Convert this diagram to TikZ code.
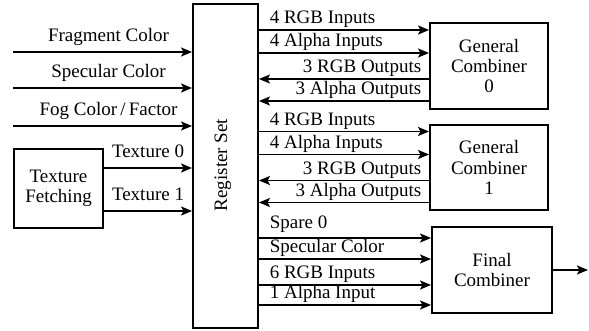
\documentclass[tikz,border=0pt]{standalone}
\usepackage{fontspec}
\setmainfont{Liberation Serif}
\usetikzlibrary{arrows.meta,positioning,calc}

\begin{document}
\begin{tikzpicture}[x=0.5pt,y=-0.5pt,font=\fontsize{9.5}{10.2}\selectfont,
  box/.style={draw,line width=0.95pt,align=center,inner sep=0pt},
  arr/.style={-{Stealth[length=5.5pt,width=4.5pt,inset=1.2pt]},line width=0.85pt},
  lbl/.style={text height=6.6pt,text depth=2pt,inner sep=0.6pt}]
  \useasboundingbox (0,0) rectangle (589,331);
  % blocks
  \node[box,minimum width=32.5pt,minimum height=162pt] (reg) at (225.5,166) {};
  \node[rotate=90] at (223,165) {Register Set};
  \node[box,minimum width=44.5pt,minimum height=39.5pt] (tex) at (58.5,188.5) {Texture\\Fetching};
  \node[box,minimum width=59pt,minimum height=43pt] (gc0) at (489,66) {General\\Combiner\\0};
  \node[box,minimum width=59pt,minimum height=42.5pt] (gc1) at (489,167.5) {General\\Combiner\\1};
  \node[box,minimum width=60pt,minimum height=43pt] (fin) at (492,270) {Final\\Combiner};
  % inputs on the left
  \coordinate (fragin) at (13,52);
  \coordinate (specin) at (13,88);
  \coordinate (fogin) at (13,126);
  \draw[arr] (fragin) -- (fragin -| reg.west) node[midway,above,lbl,inner sep=3pt,xshift=3pt] {Fragment Color};
  \draw[arr] (specin) -- (specin -| reg.west) node[midway,above,lbl,inner sep=3pt,xshift=3pt] {Specular Color};
  \draw[arr] (fogin) -- (fogin -| reg.west) node[midway,above,lbl,inner sep=3pt,xshift=3pt] {Fog Color\,/\,Factor};
  \draw[arr] ($(tex.east)+(0,-20.5)$) coordinate (t0) -- (t0 -| reg.west) node[midway,above,lbl,inner sep=3pt] {Texture 0};
  \draw[arr] ($(tex.east)+(0,22.5)$) coordinate (t1) -- (t1 -| reg.west) node[midway,above,lbl,inner sep=3pt] {Texture 1};
  % general combiners
  \foreach \g in {gc0,gc1}{
    \path ($(\g.west)+(0,-36)$) coordinate (\g-1) ($(\g.west)+(0,-13)$) coordinate (\g-2)
          ($(\g.west)+(0,13)$) coordinate (\g-3) ($(\g.west)+(0,35)$) coordinate (\g-4);
    \draw[arr] (reg.east |- \g-1) node[lbl,anchor=south west,xshift=4.4pt] {4 RGB Inputs} -- (\g-1);
    \draw[arr] (reg.east |- \g-2) node[lbl,anchor=south west,xshift=4.4pt] {4 Alpha Inputs} -- (\g-2);
    \draw[arr] (\g-3) node[lbl,anchor=south east,xshift=-2.9pt] {3 RGB Outputs} -- (reg.east |- \g-3);
    \draw[arr] (\g-4) node[lbl,anchor=south east,xshift=-2.9pt] {3 Alpha Outputs} -- (reg.east |- \g-4);
  }
  % final combiner
  \path ($(fin.west)+(0,-32)$) coordinate (fin-1) ($(fin.west)+(0,-11)$) coordinate (fin-2)
        ($(fin.west)+(0,15)$) coordinate (fin-3) ($(fin.west)+(0,35)$) coordinate (fin-4);
  \draw[arr] (reg.east |- fin-1) node[lbl,anchor=south west,xshift=4.4pt,yshift=1.5pt] {Spare 0} -- (fin-1);
  \draw[arr] (reg.east |- fin-2) node[lbl,anchor=south west,xshift=4.4pt] {Specular Color} -- (fin-2);
  \draw[arr] (reg.east |- fin-3) node[lbl,anchor=south west,xshift=4.4pt] {6 RGB Inputs} -- (fin-3);
  \draw[arr] (reg.east |- fin-4) node[lbl,anchor=south west,xshift=4.4pt] {1 Alpha Input} -- (fin-4);
  \coordinate (out) at (588,270);
  \draw[arr] (fin.east) -- (out);
\end{tikzpicture}
\end{document}
